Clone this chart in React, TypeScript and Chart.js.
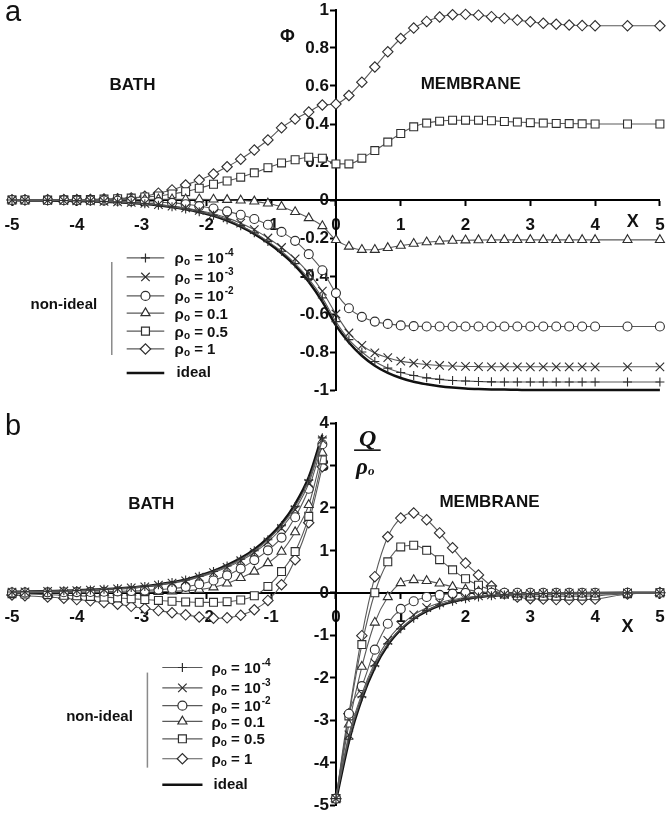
import React, { useEffect, useRef } from 'react';
import { Chart, registerables } from 'chart.js';
Chart.register(...registerables);

// ---------- grids ----------
const bathX = [-5, -4.8, -4.45, -4.2, -4, -3.79, -3.58, -3.37, -3.16, -2.95, -2.74, -2.53, -2.32, -2.11, -1.89, -1.68, -1.47, -1.26, -1.05, -0.84, -0.63, -0.42, -0.21, 0];
const bathXq = [-5, -4.8, -4.45, -4.2, -4, -3.79, -3.58, -3.37, -3.16, -2.95, -2.74, -2.53, -2.32, -2.11, -1.89, -1.68, -1.47, -1.26, -1.05, -0.84, -0.63, -0.42, -0.21];
const membX = [0, 0.2, 0.4, 0.6, 0.8, 1, 1.2, 1.4, 1.6, 1.8, 2, 2.2, 2.4, 2.6, 2.8, 3, 3.2, 3.4, 3.6, 3.8, 4, 4.5, 5];

// ---------- panel a : Phi ----------
const phiBath_1e4 = [0, -0.001, -0.002, -0.003, -0.004, -0.006, -0.008, -0.011, -0.015, -0.02, -0.027, -0.036, -0.047, -0.062, -0.08, -0.104, -0.135, -0.172, -0.218, -0.27, -0.335, -0.415, -0.515, -0.64];
const phiMemb_1e4 = [-0.64, -0.735, -0.8, -0.85, -0.885, -0.908, -0.924, -0.936, -0.944, -0.95, -0.953, -0.955, -0.957, -0.958, -0.958, -0.958, -0.958, -0.958, -0.958, -0.958, -0.958, -0.958, -0.958];
const phiBath_1e3 = [0, -0.001, -0.002, -0.003, -0.004, -0.005, -0.007, -0.01, -0.013, -0.018, -0.024, -0.032, -0.042, -0.055, -0.072, -0.094, -0.122, -0.156, -0.2, -0.25, -0.31, -0.385, -0.48, -0.6];
const phiMemb_1e3 = [-0.6, -0.7, -0.765, -0.805, -0.83, -0.848, -0.858, -0.866, -0.871, -0.874, -0.876, -0.877, -0.878, -0.878, -0.878, -0.878, -0.878, -0.878, -0.878, -0.878, -0.878, -0.878, -0.878];
const phiBath_1e2 = [0, 0, -0.001, -0.001, -0.002, -0.002, -0.003, -0.004, -0.006, -0.008, -0.011, -0.015, -0.022, -0.032, -0.045, -0.06, -0.078, -0.1, -0.13, -0.168, -0.215, -0.285, -0.37, -0.49];
const phiMemb_1e2 = [-0.49, -0.57, -0.615, -0.64, -0.652, -0.66, -0.664, -0.666, -0.666, -0.666, -0.666, -0.666, -0.666, -0.666, -0.666, -0.666, -0.666, -0.666, -0.666, -0.666, -0.666, -0.666, -0.666];
const phiBath_01 = [0, 0, 0, 0.001, 0.001, 0.001, 0.002, 0.002, 0.003, 0.003, 0.004, 0.004, 0.004, 0.004, 0.003, 0.001, -0.002, -0.007, -0.018, -0.035, -0.063, -0.095, -0.137, -0.21];
const phiMemb_01 = [-0.21, -0.245, -0.262, -0.262, -0.252, -0.24, -0.23, -0.222, -0.217, -0.214, -0.212, -0.211, -0.21, -0.21, -0.21, -0.21, -0.21, -0.21, -0.21, -0.21, -0.21, -0.21, -0.21];
const phiBath_05 = [0, 0, 0, 0.001, 0.002, 0.003, 0.005, 0.007, 0.01, 0.016, 0.021, 0.032, 0.044, 0.062, 0.083, 0.1, 0.12, 0.143, 0.17, 0.195, 0.212, 0.225, 0.22, 0.19];
const phiMemb_05 = [0.19, 0.19, 0.22, 0.26, 0.305, 0.35, 0.385, 0.405, 0.415, 0.42, 0.42, 0.42, 0.417, 0.413, 0.41, 0.407, 0.405, 0.403, 0.402, 0.401, 0.4, 0.4, 0.4];
const phiBath_1 = [0, 0, 0.001, 0.001, 0.002, 0.003, 0.005, 0.007, 0.011, 0.02, 0.036, 0.053, 0.079, 0.105, 0.137, 0.175, 0.215, 0.263, 0.316, 0.38, 0.426, 0.463, 0.5, 0.505];
const phiMemb_1 = [0.505, 0.55, 0.62, 0.7, 0.78, 0.85, 0.905, 0.94, 0.963, 0.975, 0.977, 0.973, 0.965, 0.956, 0.947, 0.938, 0.93, 0.925, 0.921, 0.918, 0.917, 0.917, 0.917];
const phiBath_ideal = [-0.001, -0.002, -0.003, -0.004, -0.005, -0.007, -0.009, -0.012, -0.016, -0.021, -0.028, -0.037, -0.049, -0.064, -0.083, -0.108, -0.14, -0.178, -0.225, -0.28, -0.345, -0.43, -0.535, -0.66];
const phiMemb_ideal = [-0.66, -0.75, -0.82, -0.872, -0.91, -0.937, -0.957, -0.97, -0.98, -0.987, -0.992, -0.995, -0.997, -0.998, -0.999, -1, -1, -1, -1, -1, -1, -1, -1];

// ---------- panel b : Q / rho_o ----------
const qBath_1e4 = [0.02, 0.025, 0.035, 0.045, 0.055, 0.068, 0.083, 0.1, 0.122, 0.15, 0.19, 0.24, 0.3, 0.39, 0.5, 0.63, 0.79, 0.99, 1.25, 1.58, 2.03, 2.65, 3.65];
const qMemb_1e4 = [-4.85, -3.45, -2.45, -1.72, -1.2, -0.85, -0.6, -0.42, -0.29, -0.2, -0.14, -0.1, -0.07, -0.05, -0.035, -0.025, -0.018, -0.013, -0.009, -0.006, -0.004, -0.002, -0.001];
const qBath_1e3 = [0.018, 0.023, 0.032, 0.042, 0.051, 0.063, 0.077, 0.094, 0.114, 0.14, 0.178, 0.225, 0.283, 0.37, 0.475, 0.6, 0.755, 0.95, 1.2, 1.52, 1.96, 2.58, 3.6];
const qMemb_1e3 = [-4.85, -3.35, -2.38, -1.65, -1.12, -0.77, -0.52, -0.35, -0.24, -0.16, -0.11, -0.075, -0.05, -0.035, -0.025, -0.018, -0.013, -0.009, -0.006, -0.004, -0.003, -0.002, -0.001];
const qBath_1e2 = [0.005, 0.007, 0.01, 0.013, 0.016, 0.02, 0.025, 0.032, 0.042, 0.055, 0.075, 0.1, 0.14, 0.2, 0.29, 0.41, 0.57, 0.77, 1.0, 1.3, 1.78, 2.45, 3.5];
const qMemb_1e2 = [-4.85, -2.85, -2.2, -1.34, -0.73, -0.38, -0.2, -0.1, -0.05, -0.02, -0.005, 0, 0, 0, 0, 0, 0, 0, 0, 0, 0, 0, 0];
const qBath_01 = [0, 0, 0.001, 0.002, 0.003, 0.004, 0.006, 0.008, 0.011, 0.016, 0.024, 0.035, 0.05, 0.075, 0.13, 0.22, 0.35, 0.5, 0.7, 0.97, 1.43, 2.07, 3.3];
const qMemb_01 = [-4.85, -3.1, -1.74, -0.7, -0.1, 0.23, 0.3, 0.28, 0.22, 0.14, 0.08, 0.03, 0, -0.02, -0.03, -0.03, -0.03, -0.03, -0.03, -0.03, -0.03, -0.01, 0];
const qBath_05 = [-0.02, -0.03, -0.045, -0.06, -0.07, -0.085, -0.1, -0.12, -0.14, -0.16, -0.18, -0.2, -0.215, -0.225, -0.225, -0.21, -0.17, -0.07, 0.15, 0.5, 0.97, 1.8, 3.13];
const qMemb_05 = [-4.85, -2.9, -1.22, 0, 0.73, 1.08, 1.12, 1.0, 0.78, 0.54, 0.33, 0.18, 0.07, -0.03, -0.07, -0.08, -0.08, -0.08, -0.08, -0.08, -0.07, -0.02, 0];
const qBath_1 = [-0.05, -0.07, -0.1, -0.13, -0.16, -0.19, -0.23, -0.27, -0.32, -0.37, -0.42, -0.47, -0.52, -0.57, -0.6, -0.59, -0.53, -0.4, -0.18, 0.19, 0.78, 1.65, 2.97];
const qMemb_1 = [-4.85, -2.85, -1.01, 0.38, 1.32, 1.76, 1.88, 1.72, 1.41, 1.06, 0.7, 0.42, 0.16, -0.02, -0.1, -0.14, -0.15, -0.16, -0.16, -0.16, -0.15, -0.03, 0];
const qBath_ideal = [0.021, 0.026, 0.036, 0.046, 0.057, 0.07, 0.085, 0.103, 0.126, 0.155, 0.196, 0.247, 0.31, 0.4, 0.515, 0.65, 0.815, 1.02, 1.29, 1.63, 2.09, 2.72, 3.72];
const qMemb_ideal = [-4.9, -3.5, -2.5, -1.76, -1.23, -0.87, -0.61, -0.43, -0.3, -0.21, -0.15, -0.1, -0.07, -0.05, -0.035, -0.025, -0.018, -0.013, -0.009, -0.006, -0.004, -0.002, -0.001];

// ---------- legend labels ----------
const rhoBase = ['10', '10', '10', '0.1', '0.5', '1'];
const rhoSup = ['-4', '-3', '-2', '', '', ''];

const FONT = 'Arial, "Liberation Sans", Helvetica, sans-serif';
const SERIF = '"Liberation Serif", "Times New Roman", serif';
const TICK_SIZE = 17;
const STYLES = ['cross', 'crossRot', 'circle', 'triangle', 'rect', 'rectRot'];
const RADII = [4.5, 6, 4.5, 5.2, 5.6, 5.2];
const LINE_COLOR = '#5a5a5a';
const MARK_COLOR = '#2e2e2e';

function pts(xs: number[], ys: number[]) {
  return xs.map((x, i) => ({ x, y: ys[i] }));
}

function joinX(a: number[], b: number[]) {
  return a.concat(b.slice(1));
}

function fmtTick(v: number) {
  return String(Math.round(v * 10) / 10);
}

function markerDs(xs: number[], ys: number[], k: number) {
  return {
    data: pts(xs, ys),
    borderColor: LINE_COLOR,
    borderWidth: 1.1,
    pointStyle: STYLES[k],
    pointRadius: RADII[k],
    pointBorderColor: MARK_COLOR,
    pointBackgroundColor: '#ffffff',
    pointBorderWidth: 1.1,
    cubicInterpolationMode: 'monotone',
    clip: false,
    fill: false,
  };
}

function idealDs(xs: number[], ys: number[]) {
  return {
    data: pts(xs, ys),
    borderColor: '#111111',
    borderWidth: 2.5,
    pointRadius: 0,
    cubicInterpolationMode: 'monotone',
    clip: false,
    fill: false,
  };
}

function drawMarker(ctx: CanvasRenderingContext2D, style: string, x: number, y: number, r: number) {
  ctx.beginPath();
  const s = Math.SQRT1_2 * r;
  switch (style) {
    case 'circle':
      ctx.arc(x, y, r, 0, Math.PI * 2);
      break;
    case 'triangle': {
      let rad = 0;
      ctx.moveTo(x + Math.sin(rad) * r, y - Math.cos(rad) * r);
      rad += (2 * Math.PI) / 3;
      ctx.lineTo(x + Math.sin(rad) * r, y - Math.cos(rad) * r);
      rad += (2 * Math.PI) / 3;
      ctx.lineTo(x + Math.sin(rad) * r, y - Math.cos(rad) * r);
      ctx.closePath();
      break;
    }
    case 'rect':
      ctx.rect(x - s, y - s, 2 * s, 2 * s);
      break;
    case 'rectRot':
      ctx.moveTo(x - r, y);
      ctx.lineTo(x, y - r);
      ctx.lineTo(x + r, y);
      ctx.lineTo(x, y + r);
      ctx.closePath();
      break;
    case 'cross':
      ctx.moveTo(x, y - r);
      ctx.lineTo(x, y + r);
      ctx.moveTo(x - r, y);
      ctx.lineTo(x + r, y);
      break;
    case 'crossRot':
      ctx.moveTo(x - s, y - s);
      ctx.lineTo(x + s, y + s);
      ctx.moveTo(x + s, y - s);
      ctx.lineTo(x - s, y + s);
      break;
  }
  ctx.fillStyle = '#ffffff';
  if (style !== 'cross' && style !== 'crossRot') ctx.fill();
  ctx.strokeStyle = MARK_COLOR;
  ctx.lineWidth = 1.2;
  ctx.stroke();
}

function drawRhoLabel(ctx: CanvasRenderingContext2D, x: number, y: number, base: string, sup: string) {
  ctx.fillStyle = '#111';
  ctx.textAlign = 'left';
  ctx.textBaseline = 'alphabetic';
  const by = y + 5.5;
  ctx.font = `bold 15px ${FONT}`;
  ctx.fillText('ρ', x, by);
  let cx = x + ctx.measureText('ρ').width;
  ctx.font = `bold 10px ${FONT}`;
  ctx.fillText('o', cx, by + 2);
  cx += ctx.measureText('o').width;
  ctx.font = `bold 15px ${FONT}`;
  const s = ' = ' + base;
  ctx.fillText(s, cx, by);
  cx += ctx.measureText(s).width;
  if (sup) {
    ctx.font = `bold 10px ${FONT}`;
    ctx.fillText(sup, cx + 1, by - 7);
  }
}

type Txt = { text: string; x: number; y: number; font: string };
type Legend = {
  lineX0: number; lineX1: number; markX: number; textX: number;
  rows: number[]; idealRow: number; groupX: number; groupY: number;
  barX: number; barY0: number; barY1: number;
};
type PanelCfg = {
  letter: string; letterBaseline: number;
  texts: Txt[]; legend: Legend;
  fraction?: { qx: number; qy: number; lineX0: number; lineX1: number; lineY: number; rx: number; ry: number };
};

function makePlugin(cfg: PanelCfg) {
  return {
    id: 'annot' + cfg.letter,
    beforeDatasetsDraw(chart: any) {
      // y tick labels, placed left of the y axis that crosses at x = 0
      const ctx: CanvasRenderingContext2D = chart.ctx;
      const sx = chart.scales.x;
      const sy = chart.scales.y;
      const x0 = sx.getPixelForValue(0);
      ctx.save();
      ctx.fillStyle = '#111';
      ctx.font = `bold ${TICK_SIZE}px ${FONT}`;
      ctx.textAlign = 'right';
      ctx.textBaseline = 'middle';
      for (const t of sy.ticks) {
        ctx.fillText(fmtTick(t.value), x0 - 7, sy.getPixelForValue(t.value) + 0.5);
      }
      ctx.restore();
    },
    afterDatasetsDraw(chart: any) {
      const ctx: CanvasRenderingContext2D = chart.ctx;
      const sx = chart.scales.x;
      const sy = chart.scales.y;
      const px = (v: number) => sx.getPixelForValue(v);
      const py = (v: number) => sy.getPixelForValue(v);
      ctx.save();
      ctx.fillStyle = '#111';
      ctx.textBaseline = 'middle';
      ctx.textAlign = 'center';
      for (const t of cfg.texts) {
        ctx.font = t.font;
        ctx.fillText(t.text, px(t.x), py(t.y));
      }
      // panel letter
      ctx.font = `29px ${FONT}`;
      ctx.textAlign = 'left';
      ctx.textBaseline = 'alphabetic';
      ctx.fillText(cfg.letter, 5, cfg.letterBaseline);

      // fraction Q / rho_o
      if (cfg.fraction) {
        const f = cfg.fraction;
        ctx.textAlign = 'center';
        ctx.textBaseline = 'middle';
        ctx.font = `bold italic 24px ${SERIF}`;
        ctx.fillText('Q', px(f.qx), py(f.qy));
        ctx.strokeStyle = '#111';
        ctx.lineWidth = 1.6;
        ctx.beginPath();
        ctx.moveTo(px(f.lineX0), py(f.lineY));
        ctx.lineTo(px(f.lineX1), py(f.lineY));
        ctx.stroke();
        ctx.font = `bold italic 23px ${SERIF}`;
        ctx.textAlign = 'left';
        ctx.fillText('ρ', px(f.rx), py(f.ry));
        const w = ctx.measureText('ρ').width;
        ctx.font = `bold italic 13px ${SERIF}`;
        ctx.fillText('o', px(f.rx) + w, py(f.ry) + 4);
      }

      // legend
      const L = cfg.legend;
      ctx.strokeStyle = '#8a8a8a';
      ctx.lineWidth = 1.5;
      ctx.beginPath();
      ctx.moveTo(px(L.barX), py(L.barY0));
      ctx.lineTo(px(L.barX), py(L.barY1));
      ctx.stroke();
      ctx.fillStyle = '#111';
      ctx.font = `bold 15px ${FONT}`;
      ctx.textAlign = 'center';
      ctx.textBaseline = 'middle';
      ctx.fillText('non-ideal', px(L.groupX), py(L.groupY));
      L.rows.forEach((ry, k) => {
        const y = py(ry);
        ctx.strokeStyle = LINE_COLOR;
        ctx.lineWidth = 1.2;
        ctx.beginPath();
        ctx.moveTo(px(L.lineX0), y);
        ctx.lineTo(px(L.lineX1), y);
        ctx.stroke();
        drawMarker(ctx, STYLES[k], px(L.markX), y, RADII[k]);
        drawRhoLabel(ctx, px(L.textX), y, rhoBase[k], rhoSup[k]);
      });
      const iy = py(L.idealRow);
      ctx.strokeStyle = '#111';
      ctx.lineWidth = 2.5;
      ctx.beginPath();
      ctx.moveTo(px(L.lineX0), iy);
      ctx.lineTo(px(L.lineX1), iy);
      ctx.stroke();
      ctx.fillStyle = '#111';
      ctx.font = `bold 15px ${FONT}`;
      ctx.textAlign = 'left';
      ctx.textBaseline = 'middle';
      ctx.fillText('ideal', px(L.textX) + 2, iy);
      ctx.restore();
    },
  };
}

function xAxisOpts(lineHeight: number) {
  return {
    type: 'linear',
    min: -5,
    max: 5,
    position: { y: 0 },
    grid: { display: true, drawOnChartArea: false, drawTicks: true, tickLength: 5, tickWidth: 2, tickColor: '#000' },
    border: { display: true, color: '#000', width: 2 },
    ticks: {
      stepSize: 1,
      autoSkip: false,
      maxRotation: 0,
      padding: 0,
      color: '#111',
      font: { family: FONT, size: TICK_SIZE, weight: 'bold', lineHeight },
      callback: (v: any) => fmtTick(Number(v)),
    },
  };
}

function yAxisOpts(min: number, max: number, step: number) {
  return {
    type: 'linear',
    min,
    max,
    position: { x: 0 },
    grid: { display: true, drawOnChartArea: false, drawTicks: true, tickLength: 5, tickWidth: 2, tickColor: '#000' },
    border: { display: true, color: '#000', width: 2 },
    ticks: { stepSize: step, autoSkip: false, display: false },
  };
}

function Panel(props: { cfg: PanelCfg; datasets: any[]; top: number; height: number; ymin: number; ymax: number; ystep: number; padTop: number; padBottom: number; xLineHeight: number }) {
  const ref = useRef<HTMLCanvasElement>(null);
  useEffect(() => {
    const chart = new Chart(ref.current as HTMLCanvasElement, {
      type: 'line',
      data: { datasets: props.datasets },
      options: {
        animation: false,
        responsive: false,
        devicePixelRatio: 1,
        layout: { padding: { left: 12, right: 2, top: props.padTop, bottom: props.padBottom } },
        plugins: { legend: { display: false }, tooltip: { enabled: false }, title: { display: false } },
        scales: {
          x: xAxisOpts(props.xLineHeight),
          y: yAxisOpts(props.ymin, props.ymax, props.ystep),
        },
      } as any,
      plugins: [makePlugin(props.cfg)],
    } as any);
    return () => chart.destroy();
  }, []);
  return (
    <canvas
      ref={ref}
      width={667}
      height={props.height}
      style={{ position: 'absolute', left: 0, top: props.top, width: 667, height: props.height }}
    />
  );
}

const aX = joinX(bathX, membX);

const datasetsA = [
  markerDs(aX, joinX(phiBath_1e4, phiMemb_1e4), 0),
  markerDs(aX, joinX(phiBath_1e3, phiMemb_1e3), 1),
  markerDs(aX, joinX(phiBath_1e2, phiMemb_1e2), 2),
  markerDs(aX, joinX(phiBath_01, phiMemb_01), 3),
  markerDs(aX, joinX(phiBath_05, phiMemb_05), 4),
  markerDs(aX, joinX(phiBath_1, phiMemb_1), 5),
  idealDs(aX, joinX(phiBath_ideal, phiMemb_ideal)),
];

const datasetsB = [
  markerDs(bathXq, qBath_1e4, 0),
  markerDs(membX, qMemb_1e4, 0),
  markerDs(bathXq, qBath_1e3, 1),
  markerDs(membX, qMemb_1e3, 1),
  markerDs(bathXq, qBath_1e2, 2),
  markerDs(membX, qMemb_1e2, 2),
  markerDs(bathXq, qBath_01, 3),
  markerDs(membX, qMemb_01, 3),
  markerDs(bathXq, qBath_05, 4),
  markerDs(membX, qMemb_05, 4),
  markerDs(bathXq, qBath_1, 5),
  markerDs(membX, qMemb_1, 5),
  idealDs(bathXq, qBath_ideal),
  idealDs(membX, qMemb_ideal),
];

const cfgA: PanelCfg = {
  letter: 'a',
  letterBaseline: 21,
  texts: [
    { text: 'BATH', x: -3.14, y: 0.605, font: `bold 17px ${FONT}` },
    { text: 'MEMBRANE', x: 2.08, y: 0.61, font: `bold 17px ${FONT}` },
    { text: 'Φ', x: -0.75, y: 0.86, font: `bold 18px ${FONT}` },
    { text: 'X', x: 4.58, y: -0.116, font: `bold 18px ${FONT}` },
  ],
  legend: {
    lineX0: -3.23, lineX1: -2.65, markX: -2.94, textX: -2.49,
    rows: [-0.305, -0.405, -0.505, -0.595, -0.69, -0.784],
    idealRow: -0.91,
    groupX: -4.2, groupY: -0.553,
    barX: -3.46, barY0: -0.326, barY1: -0.816,
  },
};

const cfgB: PanelCfg = {
  letter: 'b',
  letterBaseline: 35,
  texts: [
    { text: 'BATH', x: -2.85, y: 2.09, font: `bold 17px ${FONT}` },
    { text: 'MEMBRANE', x: 2.37, y: 2.12, font: `bold 17px ${FONT}` },
    { text: 'X', x: 4.5, y: -0.8, font: `bold 18px ${FONT}` },
  ],
  legend: {
    lineX0: -2.68, lineX1: -2.06, markX: -2.37, textX: -1.92,
    rows: [-1.76, -2.24, -2.66, -3.03, -3.44, -3.91],
    idealRow: -4.52,
    groupX: -3.65, groupY: -2.92,
    barX: -2.91, barY0: -1.88, barY1: -4.12,
  },
  fraction: { qx: 0.49, qy: 3.6, lineX0: 0.28, lineX1: 0.69, lineY: 3.36, rx: 0.31, ry: 2.94 },
};

export default function App() {
  return (
    <div style={{ position: 'absolute', left: 0, top: 0, width: 667, height: 813, background: '#fff' }}>
      <Panel cfg={cfgA} datasets={datasetsA} top={0} height={400} ymin={-1} ymax={1} ystep={0.2} padTop={10} padBottom={10} xLineHeight={2.4} />
      <Panel cfg={cfgB} datasets={datasetsB} top={400} height={413} ymin={-5} ymax={4} ystep={1} padTop={23} padBottom={8} xLineHeight={2.3} />
    </div>
  );
}
